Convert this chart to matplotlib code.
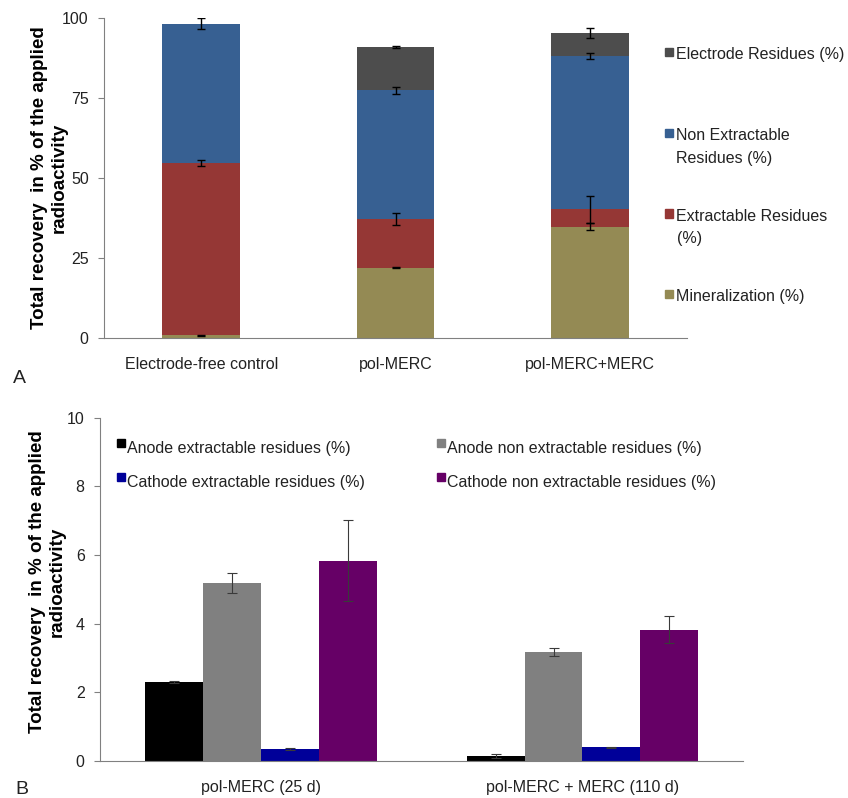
import matplotlib.pyplot as plt
from matplotlib.patches import Rectangle
import numpy as np

# ---- panel A data (stacked, % of applied radioactivity)
categories_a = ['Electrode-free control', 'pol-MERC', 'pol-MERC+MERC']
mineralization = [0.8, 21.9, 34.7]
mineralization_err = [0.2, 0.2, 1.1]
extractable = [53.7, 15.1, 5.4]
extractable_err = [0.9, 1.9, 4.2]
non_extractable = [43.6, 40.3, 47.9]
non_extractable_err = [1.7, 1.1, 1.0]
electrode = [0.0, 13.6, 7.3]
electrode_err = [0.0, 0.4, 1.5]
series_a = ['Mineralization (%)', 'Extractable Residues\n(%)',
            'Non Extractable\nResidues (%)', 'Electrode Residues (%)']
colors_a = ['#948a54', '#953735', '#376092', '#4d4d4d']

# ---- panel B data
groups_b = ['pol-MERC (25 d)', 'pol-MERC + MERC (110 d)']
anode_extr = [2.29, 0.15]
anode_extr_err = [0.03, 0.05]
anode_non = [5.19, 3.17]
anode_non_err = [0.30, 0.11]
cathode_extr = [0.35, 0.40]
cathode_extr_err = [0.02, 0.02]
cathode_non = [5.84, 3.83]
cathode_non_err = [1.17, 0.39]
series_b = ['Anode extractable residues (%)', 'Anode non extractable residues (%)',
            'Cathode extractable residues (%)', 'Cathode non extractable residues (%)']
colors_b = ['#000000', '#808080', '#000099', '#660066']

ylab = 'Total recovery  in % of the applied\nradioactivity'

plt.rcParams['font.family'] = ['Liberation Sans', 'DejaVu Sans']
W, H = 848, 798
fig = plt.figure(figsize=(W / 100, H / 100), dpi=100)


def fx(px):
    return px / W


def fy(py):
    return 1 - py / H


def style_axis(ax):
    for s in ['top', 'right']:
        ax.spines[s].set_visible(False)
    ax.spines['left'].set_color('#808080')
    ax.spines['bottom'].set_color('#808080')
    ax.tick_params(axis='y', length=4, color='#808080', pad=7, labelsize=11.5, labelcolor='#222222')
    ax.tick_params(axis='x', length=0, pad=14, labelsize=11.5, labelcolor='#222222')


def legend_entry(lx, yb, label, col):
    # square next to first line, text lines stacked below
    fig.add_artist(Rectangle((fx(lx), fy(yb - 3)), fx(8.3), 8.3 / H,
                             transform=fig.transFigure, color=col))
    for k, line in enumerate(label.split('\n')):
        fig.text(fx(lx + 11.5), fy(yb + k * 22.5), line, fontsize=11.5,
                 va='baseline', ha='left', color='#222222')


# ---------------- panel A
axA = fig.add_axes([fx(104), fy(337.7), fx(687 - 104), (337.7 - 17.7) / H])
x = np.arange(len(categories_a))
vals_a = [mineralization, extractable, non_extractable, electrode]
errs_a = [mineralization_err, extractable_err, non_extractable_err, electrode_err]
bottom = np.zeros(len(categories_a))
for vals, errs, col in zip(vals_a, errs_a, colors_a):
    vals = np.array(vals)
    axA.bar(x, vals, 0.4, bottom=bottom, color=col, zorder=2)
    top = bottom + vals
    m = vals > 0
    axA.errorbar(x[m], top[m], yerr=np.array(errs)[m], fmt='none', ecolor='black',
                 elinewidth=1, capsize=3, capthick=1, zorder=3)
    bottom = top
axA.set_xlim(-0.5, 2.5)
axA.set_ylim(0, 100)
axA.set_yticks([0, 25, 50, 75, 100])
axA.set_xticks(x, categories_a)
style_axis(axA)
axA.set_ylabel(ylab, fontsize=13.5, fontweight='bold', linespacing=1.15)
axA.yaxis.set_label_coords(-0.063, 0.5)

baselines_a = [59.3, 140, 220.7, 301]
for lab, col, yb in zip(series_a[::-1], colors_a[::-1], baselines_a):
    legend_entry(665, yb, lab, col)

fig.text(fx(13), fy(383), 'A', fontsize=14, va='baseline', color='#222222')

# ---------------- panel B
axB = fig.add_axes([fx(100), fy(761), fx(743.3 - 100), (761 - 417.7) / H])
xb = np.arange(len(groups_b))
vals_b = [anode_extr, anode_non, cathode_extr, cathode_non]
errs_b = [anode_extr_err, anode_non_err, cathode_extr_err, cathode_non_err]
w = 0.18
for i, (vals, errs, col) in enumerate(zip(vals_b, errs_b, colors_b)):
    pos = xb + (i - 1.5) * w
    axB.bar(pos, vals, w, color=col, zorder=2)
    axB.errorbar(pos, vals, yerr=errs, fmt='none', ecolor='#3a3a3a',
                 elinewidth=0.8, capsize=3.5, capthick=0.8, zorder=3)
axB.set_xlim(-0.5, 1.5)
axB.set_ylim(0, 10)
axB.set_yticks([0, 2, 4, 6, 8, 10])
axB.set_xticks(xb, groups_b)
style_axis(axB)
axB.set_ylabel(ylab, fontsize=13.5, fontweight='bold', linespacing=1.15)
axB.yaxis.set_label_coords(-0.054, 0.522)

leg_pos_b = [(116.7, 453), (436.7, 453), (116.7, 487), (436.7, 487)]
for lab, col, (lx, yb) in zip(series_b, colors_b, leg_pos_b):
    fig.add_artist(Rectangle((fx(lx), fy(yb - 6)), fx(8.3), 8.3 / H,
                             transform=fig.transFigure, color=col))
    fig.text(fx(lx + 10.5), fy(yb), lab, fontsize=11.5, va='baseline', ha='left', color='#222222')

fig.text(fx(15), fy(794), 'B', fontsize=14, va='baseline', color='#222222')

fig.savefig('out.png', dpi=100)
